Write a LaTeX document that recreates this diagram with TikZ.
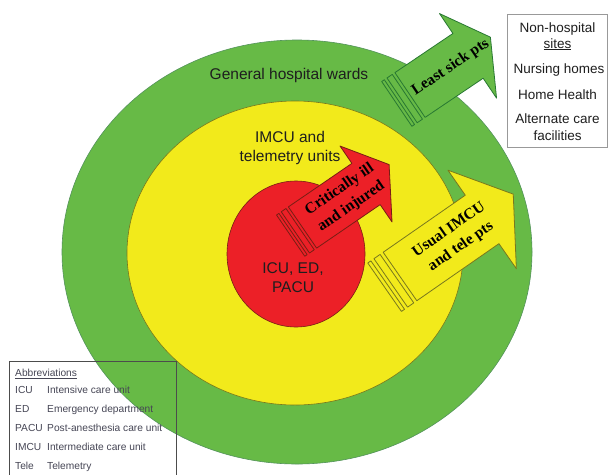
\documentclass[tikz,border=0pt]{standalone}
\usepackage{fontspec}
\setmainfont{Liberation Sans}
\newfontfamily\arrowfont{Liberation Serif}
\definecolor{gfill}{RGB}{103,186,70}
\definecolor{gline}{RGB}{40,120,50}
\definecolor{yfill}{RGB}{242,234,27}
\definecolor{yline}{RGB}{120,120,30}
\definecolor{rfill}{RGB}{236,32,39}
\definecolor{rline}{RGB}{120,30,20}
\definecolor{txt}{RGB}{30,30,30}
\definecolor{abtxt}{RGB}{70,70,85}
\newcommand{\stripedarrow}[5]{%
  \pgfmathsetmacro{\uu}{#3/16}%
  \pgfmathsetmacro{\tipx}{#1+#4}%
  \draw[#5] (0,-#2) -- (#1,-#2) -- (#1,-#3) -- (\tipx,-3) -- (#1,#3) -- (#1,#2) -- (0,#2) -- cycle;
  \draw[#5] (-5*\uu,-#2) rectangle (-4*\uu,#2);
  \draw[#5] (-3*\uu,-#2) rectangle (-1*\uu,#2);
}
\begin{document}
\begin{tikzpicture}[x=1pt,y=-1pt,
  lbl/.style={text=txt,font=\fontsize{15.5}{19}\selectfont,inner sep=0pt,anchor=base},
  atext/.style={text=black,font=\arrowfont\bfseries\fontsize{15.5}{20.5}\selectfont,align=center,inner sep=0pt},
  side/.style={text=txt,font=\fontsize{13.5}{16}\selectfont,inner sep=0pt,anchor=base},
  abb/.style={text=abtxt,font=\fontsize{10.2}{12}\selectfont,inner sep=0pt,anchor=base west},
  lsarrow/.style={fill=gfill,draw=gline,line width=0.8pt,line join=round},
  crarrow/.style={fill=rfill,draw=rline,line width=0.8pt,line join=round},
  usarrow/.style={fill=yfill,draw=yline,line width=0.8pt,line join=round}]
\useasboundingbox (0,0) rectangle (609,474);
\fill[white] (0,0) rectangle (609,474);
% concentric zones
\draw[fill=gfill,draw=gline!80,line width=0.6pt] (297,252) ellipse [x radius=235pt, y radius=212pt];
\draw[fill=yfill,draw=yline,line width=0.6pt] (295,253) ellipse [x radius=168pt, y radius=152pt];
\draw[fill=rfill,draw=rline,line width=0.6pt] (296,254) ellipse [x radius=69pt, y radius=73pt];
% zone labels
\node[lbl] (gw) at (289,79.5) {General hospital wards};
\node[lbl] (im1) at (290,142.5) {IMCU and};
\node[lbl] (im2) at (290,161.5) {telemetry units};
\node[lbl] (icu1) at (293,273.5) {ICU, ED,};
\node[lbl] (icu2) at (293,292.5) {PACU};
% arrows
\begin{scope}[shift={(410,95)},rotate=34]
  \stripedarrow{70}{27}{51}{29}{lsarrow}
  \node[atext,transform shape] (least) at (49,0) {Least sick pts};
\end{scope}
\begin{scope}[shift={(302.5,227.5)},rotate=34.4]
  \stripedarrow{77}{25}{46}{30}{crarrow}
  \node[atext,transform shape] (crit) at (52,0) {Critically ill\\and injured};
\end{scope}
\begin{scope}[shift={(400,276.5)},rotate=34.8]
  \stripedarrow{100}{29.5}{60}{40}{usarrow}
  \node[atext,transform shape] (usual) at (67,0) {Usual IMCU\\and tele pts};
\end{scope}
% non-hospital box
\draw[draw=gray!80,line width=0.8pt] (507,14) rectangle (607.5,147);
\node[side] (nh1) at (557.5,32) {Non-hospital};
\node[side] (nh2) at (557.5,48) {\underline{sites}};
\node[side] (nh3) at (559,73) {Nursing homes};
\node[side] (nh4) at (557.5,99) {Home Health};
\node[side] (nh5) at (557.5,123) {Alternate care};
\node[side] (nh6) at (557.5,140) {facilities};
% abbreviations box
\draw[draw=black!70,line width=0.7pt] (9,361) rectangle (176,490);
\node[abb] (ab0) at (15,376.5) {\underline{Abbreviations}};
\node[abb] (ab1a) at (15,393.5) {ICU};
\node[abb] (ab1b) at (47,393.5) {Intensive care unit};
\node[abb] (ab2a) at (15,412.5) {ED};
\node[abb] (ab2b) at (47,412.5) {Emergency department};
\node[abb] (ab3a) at (15,431.5) {PACU};
\node[abb] (ab3b) at (47,431.5) {Post-anesthesia care unit};
\node[abb] (ab4a) at (15,450.5) {IMCU};
\node[abb] (ab4b) at (47,450.5) {Intermediate care unit};
\node[abb] (ab5a) at (15,469.5) {Tele};
\node[abb] (ab5b) at (47,469.5) {Telemetry};
\end{tikzpicture}
\end{document}
